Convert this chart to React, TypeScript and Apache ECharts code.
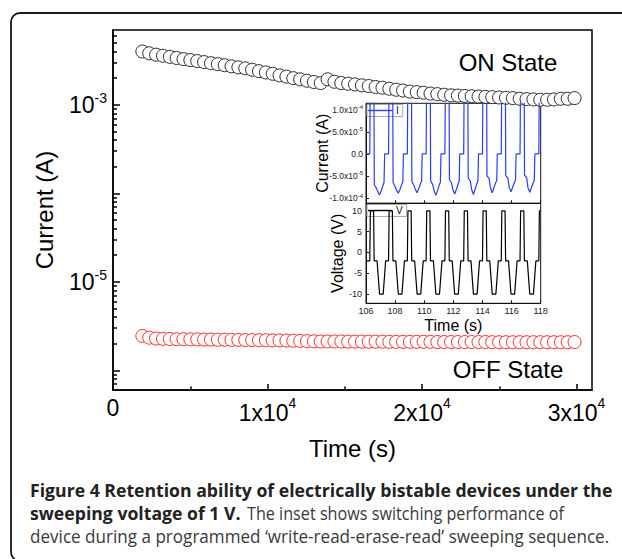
import React, { useEffect, useRef } from "react";
import * as echarts from "echarts";

// ---------- main chart data ----------
const onTimes = [
  1900, 2344, 2788, 3232, 3676, 4120, 4564, 5008, 5452, 5896,
  6340, 6784, 7228, 7672, 8116, 8560, 9004, 9448, 9892, 10336,
  10780, 11224, 11668, 12112, 12556, 13000, 13444, 13888, 14332, 14776,
  15220, 15664, 16108, 16552, 16996, 17440, 17884, 18328, 18772, 19216,
  19660, 20104, 20548, 20992, 21436, 21880, 22324, 22768, 23212, 23656,
  24100, 24544, 24988, 25432, 25876, 26320, 26764, 27208, 27652, 28096,
  28540, 28984, 29428, 29872,
];
// ON state current in mA
const onCurrent_mA = [
  4.0, 3.82, 3.68, 3.58, 3.48, 3.38, 3.28, 3.2, 3.12, 3.04,
  2.95, 2.88, 2.8, 2.72, 2.65, 2.58, 2.49, 2.4, 2.32, 2.24,
  2.15, 2.08, 2.0, 1.94, 1.87, 1.81, 1.76, 1.94, 1.82, 1.76,
  1.73, 1.7, 1.66, 1.63, 1.59, 1.56, 1.52, 1.48, 1.45, 1.41,
  1.39, 1.37, 1.34, 1.32, 1.3, 1.28, 1.27, 1.26, 1.25, 1.24,
  1.23, 1.22, 1.21, 1.2, 1.19, 1.17, 1.16, 1.15, 1.14, 1.14,
  1.15, 1.17, 1.17, 1.19,
];
// OFF state current in µA
const offCurrent_uA = [
  2.45, 2.34, 2.29, 2.27, 2.26, 2.25, 2.25, 2.24, 2.24, 2.23,
  2.23, 2.22, 2.22, 2.21, 2.21, 2.2, 2.2, 2.19, 2.19, 2.18,
  2.18, 2.17, 2.16, 2.15, 2.14, 2.13, 2.12, 2.12, 2.12, 2.12,
  2.11, 2.11, 2.11, 2.11, 2.11, 2.11, 2.1, 2.1, 2.1, 2.1,
  2.1, 2.1, 2.1, 2.09, 2.09, 2.09, 2.09, 2.09, 2.09, 2.09,
  2.09, 2.08, 2.08, 2.08, 2.08, 2.08, 2.08, 2.08, 2.08, 2.08,
  2.08, 2.08, 2.08, 2.09,
];

const mainXTicks = [0, 10000, 20000, 30000];
const mainXMinorTicks = [5000, 15000, 25000];
const mainYRange = [6e-7, 7e-3];
const mainYLabelExps = [-5, -3];
const mainYMajorExps = [-6, -5, -4, -3];
const mainYMinorValues = [
  7e-7, 8e-7, 9e-7,
  2e-6, 3e-6, 4e-6, 5e-6, 6e-6, 7e-6, 8e-6, 9e-6,
  2e-5, 3e-5, 4e-5, 5e-5, 6e-5, 7e-5, 8e-5, 9e-5,
  2e-4, 3e-4, 4e-4, 5e-4, 6e-4, 7e-4, 8e-4, 9e-4,
  2e-3, 3e-3, 4e-3, 5e-3, 6e-3,
];

// ---------- inset data ----------
const insetTimeRange = [106, 118];
const insetCurrentRange = [-1.12e-4, 1.15e-4];
const insetVoltageRange = [-12.2, 11.8];
const insetCurrentTicks = [-1e-4, -5e-5, 0, 5e-5, 1e-4];
const insetVoltageTicks = [-10, -5, 0, 5, 10];

const insetCurrent = [
  [106.0, 0], [106.26, 0],
  [106.3, 2e-4], [106.54, 2e-4], [106.57, -7.0e-5], [106.72, -7.8e-5], [106.8, -8.5e-5], [106.93, -9.3e-5], [107.05, -8.3e-5], [107.18, -7.0e-5], [107.24, -6.5e-5], [107.28, 0], [107.55, 0],
  [107.59, 2e-4], [107.83, 2e-4], [107.86, -6.5e-5], [108.01, -7.5e-5], [108.09, -8.2e-5], [108.22, -8.9e-5], [108.34, -8.0e-5], [108.47, -6.8e-5], [108.53, -6.3e-5], [108.57, 0], [108.84, 0],
  [108.88, 2e-4], [109.12, 2e-4], [109.15, -6.2e-5], [109.3, -7.2e-5], [109.38, -8.0e-5], [109.51, -8.8e-5], [109.63, -7.8e-5], [109.76, -6.6e-5], [109.82, -6.2e-5], [109.86, 0], [110.13, 0],
  [110.17, 2e-4], [110.41, 2e-4], [110.44, -6.0e-5], [110.59, -7.0e-5], [110.67, -8.3e-5], [110.8, -9.4e-5], [110.92, -8.2e-5], [111.05, -6.9e-5], [111.11, -6.4e-5], [111.15, 0], [111.42, 0],
  [111.46, 2e-4], [111.7, 2e-4], [111.73, -5.8e-5], [111.88, -6.6e-5], [111.96, -8.0e-5], [112.09, -9.1e-5], [112.21, -8.0e-5], [112.34, -6.7e-5], [112.4, -6.2e-5], [112.44, 0], [112.71, 0],
  [112.75, 2e-4], [112.99, 2e-4], [113.02, -5.5e-5], [113.17, -6.2e-5], [113.25, -8.0e-5], [113.38, -9.2e-5], [113.5, -7.9e-5], [113.63, -6.6e-5], [113.69, -6.1e-5], [113.73, 0], [114.0, 0],
  [114.04, 2e-4], [114.28, 2e-4], [114.31, -5.0e-5], [114.46, -5.6e-5], [114.54, -7.6e-5], [114.67, -8.8e-5], [114.79, -7.6e-5], [114.92, -6.4e-5], [114.98, -6.0e-5], [115.02, 0], [115.29, 0],
  [115.33, 2e-4], [115.57, 2e-4], [115.6, -4.9e-5], [115.75, -5.5e-5], [115.83, -7.5e-5], [115.96, -8.6e-5], [116.08, -7.5e-5], [116.21, -6.3e-5], [116.27, -5.9e-5], [116.31, 0], [116.58, 0],
  [116.62, 2e-4], [116.86, 2e-4], [116.89, -4.8e-5], [117.04, -5.4e-5], [117.12, -7.6e-5], [117.25, -8.7e-5], [117.37, -7.6e-5], [117.5, -6.4e-5], [117.56, -6.0e-5], [117.6, 0], [117.87, 0],
  [117.91, 2e-4], [118.0, 2e-4],
];

const insetVoltage = [
  [106.0, -2], [106.26, -2],
  [106.3, 10], [106.52, 10], [106.56, -2], [106.76, -2], [106.93, -10], [107.18, -10], [107.35, -2], [107.55, -2],
  [107.59, 10], [107.81, 10], [107.85, -2], [108.05, -2], [108.22, -10], [108.47, -10], [108.64, -2], [108.84, -2],
  [108.88, 10], [109.1, 10], [109.14, -2], [109.34, -2], [109.51, -10], [109.76, -10], [109.93, -2], [110.13, -2],
  [110.17, 10], [110.39, 10], [110.43, -2], [110.63, -2], [110.8, -10], [111.05, -10], [111.22, -2], [111.42, -2],
  [111.46, 10], [111.68, 10], [111.72, -2], [111.92, -2], [112.09, -10], [112.34, -10], [112.51, -2], [112.71, -2],
  [112.75, 10], [112.97, 10], [113.01, -2], [113.21, -2], [113.38, -10], [113.63, -10], [113.8, -2], [114.0, -2],
  [114.04, 10], [114.26, 10], [114.3, -2], [114.5, -2], [114.67, -10], [114.92, -10], [115.09, -2], [115.29, -2],
  [115.33, 10], [115.55, 10], [115.59, -2], [115.79, -2], [115.96, -10], [116.21, -10], [116.38, -2], [116.58, -2],
  [116.62, 10], [116.84, 10], [116.88, -2], [117.08, -2], [117.25, -10], [117.5, -10], [117.67, -2], [117.87, -2],
  [117.91, 10], [118.0, 10],
];

const captionLine1 = "Figure 4 Retention ability of electrically bistable devices under the";
const captionLine2Bold = "sweeping voltage of 1 V.";
const captionLine2 = "The inset shows switching performance of";
const captionLine3 = "device during a programmed \u2018write-read-erase-read\u2019 sweeping sequence.";

const FONT = "'Liberation Sans', Arial, Helvetica, sans-serif";
const CAP_FONT = "'Open Sans', 'Noto Sans', sans-serif";

function measure(text: string, font: string): number {
  const c = document.createElement("canvas").getContext("2d");
  if (!c) return text.length * 9;
  c.font = font;
  return c.measureText(text).width;
}

export default function App() {
  const ref = useRef<HTMLDivElement>(null);

  useEffect(() => {
    if (!ref.current) return;
    const chart = echarts.init(ref.current, undefined, { renderer: "svg" });

    const yMin = Math.log10(mainYRange[0]);
    const yMax = Math.log10(mainYRange[1]);

    // caption sizing (fit the reference's line widths)
    const capSize = 17.5;
    const boldFont = `bold ${capSize}px ${CAP_FONT}`;
    const normFont = `${capSize}px ${CAP_FONT}`;
    const boldScale = 583 / measure(captionLine1, boldFont);
    const normScale = 580 / measure(captionLine3, normFont);
    const line2NormX = 247;
    const line2Scale = (564 - line2NormX) / measure(captionLine2, normFont);

    const mainGrid = { left: 113, top: 30, width: 479, height: 360 };
    const topInset = { left: 366, top: 103.3, width: 174.7, height: 100 };
    const botInset = { left: 366, top: 203.3, width: 174.7, height: 100 };

    const blk = "#000";
    const noSplit = { show: false };

    const legendBase = {
      orient: "horizontal",
      icon: "rect",
      itemWidth: 24, itemHeight: 1.4, itemGap: 2, padding: [1, 4, 1, 1],
      borderColor: "#aaa", borderWidth: 1, backgroundColor: "#fff",
      textStyle: { fontSize: 10, fontFamily: FONT, color: "#111", padding: [0, 0, 0, -1] },
    };

    const option: any = {
      animation: false,
      backgroundColor: "#fff",
      grid: [
        { ...mainGrid, show: true, borderColor: blk, borderWidth: 1.5, outerBoundsMode: "none", containLabel: false },
        { ...topInset, show: true, borderColor: "#111", borderWidth: 1, outerBoundsMode: "none", containLabel: false },
        { ...botInset, show: true, borderColor: "#111", borderWidth: 1, outerBoundsMode: "none", containLabel: false },
        { ...mainGrid, show: false, outerBoundsMode: "none", containLabel: false },
      ],
      xAxis: [
        {
          gridIndex: 0, type: "value", min: 0, max: 31000,
          axisLine: { show: true, onZero: false, lineStyle: { color: blk, width: 1.5 } },
          axisTick: { show: true, inside: true, length: 6, customValues: mainXTicks, lineStyle: { color: blk, width: 1.5 } },
          axisLabel: {
            customValues: mainXTicks, margin: 6, color: blk,
            formatter: (v: number) => (v === 0 ? "{b|0}" : `{b|${Math.round(v / 1e4)}x10}{s|4}`),
            rich: {
              b: { fontSize: 23, fontFamily: FONT, color: blk },
              s: { fontSize: 14, fontFamily: FONT, color: blk, padding: [0, 0, 19, 0] },
            },
          },
          splitLine: noSplit,
          name: "Time (s)", nameLocation: "middle", nameGap: 46, nameMoveOverlap: false,
          nameTextStyle: { fontSize: 24, fontFamily: FONT, color: blk },
        },
        {
          gridIndex: 3, type: "value", min: 0, max: 31000,
          axisLine: { show: false, onZero: false },
          axisTick: { show: true, inside: true, length: 3.5, customValues: mainXMinorTicks, lineStyle: { color: blk, width: 1.5 } },
          axisLabel: { show: false },
          splitLine: noSplit,
        },
        {
          gridIndex: 1, type: "value", min: insetTimeRange[0], max: insetTimeRange[1], interval: 2,
          axisLine: { show: true, onZero: false, lineStyle: { color: "#111", width: 1 } },
          axisTick: { show: true, inside: true, length: 3, lineStyle: { color: "#111" } },
          axisLabel: { show: false },
          splitLine: noSplit,
        },
        {
          gridIndex: 2, type: "value", min: insetTimeRange[0], max: insetTimeRange[1], interval: 2,
          axisLine: { show: true, onZero: false, lineStyle: { color: "#111", width: 1 } },
          axisTick: { show: true, inside: true, length: 3, lineStyle: { color: "#111" } },
          axisLabel: { show: true, margin: 3, fontSize: 9, fontFamily: FONT, color: "#222" },
          splitLine: noSplit,
          name: "Time (s)", nameLocation: "middle", nameGap: 14, nameMoveOverlap: false,
          nameTextStyle: { fontSize: 16, fontFamily: FONT, color: blk },
        },
      ],
      yAxis: [
        {
          gridIndex: 0, type: "value", min: yMin, max: yMax,
          axisLine: { show: true, onZero: false, lineStyle: { color: blk, width: 1.5 } },
          axisTick: { show: true, inside: true, length: 7, customValues: mainYMajorExps, lineStyle: { color: blk, width: 1.5 } },
          axisLabel: {
            customValues: mainYLabelExps, margin: 6, color: blk,
            formatter: (v: number) => `{b|10}{s|${Math.round(v)}}`,
            rich: {
              b: { fontSize: 23, fontFamily: FONT, color: blk },
              s: { fontSize: 14, fontFamily: FONT, color: blk, padding: [0, 0, 14, 0] },
            },
          },
          splitLine: noSplit,
          name: "Current (A)", nameLocation: "middle", nameGap: 57, nameMoveOverlap: false,
          nameTextStyle: { fontSize: 24, fontFamily: FONT, color: blk },
        },
        {
          gridIndex: 3, type: "value", min: yMin, max: yMax,
          axisLine: { show: false, onZero: false },
          axisTick: { show: true, inside: true, length: 4, customValues: mainYMinorValues.map((v) => Math.log10(v)), lineStyle: { color: blk, width: 1.5 } },
          axisLabel: { show: false },
          splitLine: noSplit,
        },
        {
          gridIndex: 1, type: "value", min: insetCurrentRange[0], max: insetCurrentRange[1],
          axisLine: { show: true, onZero: false, lineStyle: { color: "#111", width: 1 } },
          axisTick: { show: true, inside: true, length: 3, customValues: insetCurrentTicks, lineStyle: { color: "#111" } },
          axisLabel: {
            customValues: insetCurrentTicks, margin: 3, color: "#222",
            formatter: (v: number) => {
              if (Math.abs(v) < 1e-12) return "{n|0.0}";
              const e = Math.floor(Math.log10(Math.abs(v)) + 1e-9);
              const m = Math.abs(v) / Math.pow(10, e);
              return `{n|${v < 0 ? "-" : ""}${m.toFixed(1)}x10}{s|${e}}`;
            },
            rich: {
              n: { fontSize: 8.5, fontFamily: FONT, color: "#222" },
              s: { fontSize: 6, fontFamily: FONT, color: "#222", padding: [0, 0, 5, 0] },
            },
          },
          splitLine: noSplit,
          name: "Current (A)", nameLocation: "middle", nameGap: 36, nameMoveOverlap: false,
          nameTextStyle: { fontSize: 16, fontFamily: FONT, color: blk },
        },
        {
          gridIndex: 2, type: "value", min: insetVoltageRange[0], max: insetVoltageRange[1],
          axisLine: { show: true, onZero: false, lineStyle: { color: "#111", width: 1 } },
          axisTick: { show: true, inside: true, length: 3, customValues: insetVoltageTicks, lineStyle: { color: "#111" } },
          axisLabel: { customValues: insetVoltageTicks, margin: 4, fontSize: 9, fontFamily: FONT, color: "#222" },
          splitLine: noSplit,
          name: "Voltage (V)", nameLocation: "middle", nameGap: 21, nameMoveOverlap: false,
          nameTextStyle: { fontSize: 16, fontFamily: FONT, color: blk },
        },
      ],
      legend: [
        { ...legendBase, data: ["I"], left: 367, top: 104.5 },
        { ...legendBase, data: ["V"], left: 367, top: 204.5 },
      ],
      series: [
        {
          name: "ON", type: "scatter", xAxisIndex: 0, yAxisIndex: 0, z: 2,
          symbol: "circle", symbolSize: 13,
          itemStyle: { color: "#fff", borderColor: "#2a2a2a", borderWidth: 1, opacity: 1 },
          data: onTimes.map((t, i) => [t, Math.log10(onCurrent_mA[i] * 1e-3)]),
        },
        {
          name: "OFF", type: "scatter", xAxisIndex: 0, yAxisIndex: 0, z: 2,
          symbol: "circle", symbolSize: 13,
          itemStyle: { color: "#fff", borderColor: "#ff2a2a", borderWidth: 1, opacity: 1 },
          data: onTimes.map((t, i) => [t, Math.log10(offCurrent_uA[i] * 1e-6)]),
        },
        {
          name: "I", type: "line", xAxisIndex: 2, yAxisIndex: 2, z: 5,
          symbol: "none", clip: true,
          lineStyle: { color: "#2b3cff", width: 1.2 },
          itemStyle: { color: "#2b3cff" },
          data: insetCurrent,
        },
        {
          name: "V", type: "line", xAxisIndex: 3, yAxisIndex: 3, z: 5,
          symbol: "none", clip: true,
          lineStyle: { color: "#000", width: 1.2 },
          itemStyle: { color: "#000" },
          data: insetVoltage,
        },
      ],
      graphic: [
        {
          type: "rect", z: -1, silent: true,
          shape: { x: 11, y: 13, width: 720, height: 548, r: 9 },
          style: { fill: "none", stroke: "#1a1a1a", lineWidth: 1.8 },
        },
        {
          type: "text", x: 508, y: 62,
          style: { text: "ON State", font: `24px ${FONT}`, fill: "#000", align: "center", verticalAlign: "middle" },
        },
        {
          type: "text", x: 508, y: 369,
          style: { text: "OFF State", font: `24px ${FONT}`, fill: "#000", align: "center", verticalAlign: "middle" },
        },
        {
          type: "text", x: 30, y: 490, scaleX: boldScale,
          style: { text: captionLine1, font: boldFont, fill: "#222", verticalAlign: "middle" },
        },
        {
          type: "text", x: 30, y: 513, scaleX: boldScale,
          style: { text: captionLine2Bold, font: boldFont, fill: "#222", verticalAlign: "middle" },
        },
        {
          type: "text", x: line2NormX, y: 513, scaleX: line2Scale,
          style: { text: captionLine2, font: normFont, fill: "#3a3a3a", verticalAlign: "middle" },
        },
        {
          type: "text", x: 30, y: 536, scaleX: normScale,
          style: { text: captionLine3, font: normFont, fill: "#3a3a3a", verticalAlign: "middle" },
        },
      ],
    };

    chart.setOption(option);
    return () => chart.dispose();
  }, []);

  return (
    <div
      ref={ref}
      style={{ position: "absolute", left: 0, top: 0, width: 622, height: 559 }}
    />
  );
}
